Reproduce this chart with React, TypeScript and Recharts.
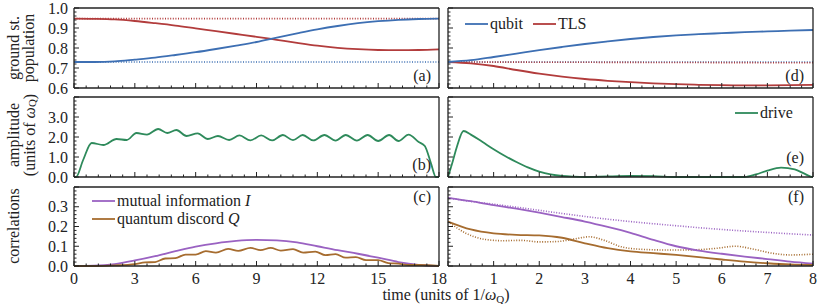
import React from 'react';
import { LineChart, Line, XAxis, YAxis, Legend } from 'recharts';

const W = 822;
const H = 304;
const FONT = '"Liberation Serif", "Times New Roman", serif';
const INK = '#222';

const BLUE = '#3d6fb3';
const RED = '#b23c3c';
const GREEN = '#2e8a5b';
const PURPLE = '#9a62c2';
const BROWN = '#a66c2f';

// ---------- (a) ground state population, driven ----------
const timeA = [0, 1, 2, 3, 4, 5, 6, 7, 8, 9, 10, 11, 12, 13, 14, 15, 16, 17, 18];
const qubitA = [0.73, 0.73, 0.733, 0.742, 0.752, 0.765, 0.779, 0.795, 0.812, 0.83, 0.852, 0.873, 0.893, 0.91, 0.924, 0.934, 0.941, 0.945, 0.947];
const tlsA = [0.947, 0.946, 0.943, 0.935, 0.924, 0.912, 0.898, 0.884, 0.87, 0.856, 0.841, 0.826, 0.812, 0.801, 0.794, 0.79, 0.789, 0.79, 0.793];
const refTimeA = [0, 18];
const qubitRefA = [0.73, 0.73];
const tlsRefA = [0.947, 0.947];

// ---------- (d) ground state population, optimal ----------
const timeD = [0, 0.5, 1, 1.5, 2, 2.5, 3, 3.5, 4, 4.5, 5, 5.5, 6, 6.5, 7, 7.5, 8];
const qubitD = [0.73, 0.739, 0.755, 0.772, 0.789, 0.805, 0.82, 0.833, 0.845, 0.855, 0.863, 0.869, 0.874, 0.879, 0.883, 0.887, 0.89];
const tlsD = [0.73, 0.723, 0.71, 0.69, 0.672, 0.657, 0.645, 0.636, 0.629, 0.623, 0.619, 0.616, 0.614, 0.613, 0.613, 0.614, 0.616];
const refTimeD = [0, 8];
const qubitRefD = [0.73, 0.73];
const tlsRefD = [0.73, 0.726];

// ---------- (b) drive amplitude ----------
const driveTimeB = [0, 0.1, 0.45, 0.87, 1.45, 2.1, 2.6, 3.08, 3.6, 4.15, 4.6, 5.05, 5.55, 6.1, 6.6, 7.1, 7.65, 8.16, 8.7, 9.23, 9.77, 10.3, 10.8, 11.28, 11.8, 12.35, 12.9, 13.4, 13.95, 14.48, 15.0, 15.54, 16.0, 16.5, 17.0, 17.3, 17.6, 17.85, 18];
const driveAmpB = [0, 0, 0.85, 1.7, 1.6, 1.9, 1.85, 2.2, 2.12, 2.4, 2.2, 2.35, 2.05, 2.18, 1.9, 2.05, 1.85, 2.08, 1.83, 2.08, 1.83, 2.1, 1.84, 2.1, 1.83, 2.1, 1.82, 2.1, 1.82, 2.1, 1.8, 2.1, 1.8, 2.12, 1.75, 1.55, 0.7, 0, 0];

// ---------- (e) drive amplitude ----------
const driveTimeE = [0, 0.1, 0.2, 0.34, 0.5, 0.75, 1.0, 1.25, 1.5, 1.75, 2.0, 2.25, 2.5, 2.75, 3.0, 3.5, 4.0, 4.5, 5.0, 6.0, 6.5, 6.75, 7.0, 7.3, 7.6, 7.8, 7.95, 8.0];
const driveAmpE = [0, 0.75, 1.55, 2.3, 2.12, 1.76, 1.39, 1.05, 0.75, 0.48, 0.27, 0.13, 0.05, 0.015, 0, 0.03, 0.05, 0.04, 0, 0, 0, 0.13, 0.32, 0.47, 0.38, 0.18, 0.02, 0];

// ---------- (c) correlations ----------
const timeC = [0, 1, 2, 3, 4, 5, 6, 7, 8, 9, 10, 11, 12, 13, 14, 15, 16, 17, 18];
const mutualC = [0, 0.002, 0.01, 0.028, 0.05, 0.075, 0.098, 0.115, 0.127, 0.132, 0.13, 0.12, 0.1, 0.08, 0.062, 0.042, 0.02, 0.006, 0];
const discordTimeC = [0, 1, 2, 3, 3.5, 4, 4.5, 5.0, 5.5, 6.0, 6.5, 7.0, 7.6, 8.1, 8.7, 9.2, 9.7, 10.2, 10.8, 11.3, 11.9, 12.4, 12.9, 13.4, 13.9, 14.4, 15.0, 15.5, 16, 16.5, 17, 18];
const discordC = [0, 0, 0.003, 0.01, 0.018, 0.02, 0.038, 0.04, 0.058, 0.058, 0.075, 0.068, 0.087, 0.077, 0.092, 0.08, 0.092, 0.078, 0.085, 0.068, 0.073, 0.055, 0.06, 0.042, 0.045, 0.03, 0.03, 0.015, 0.012, 0.005, 0.005, 0];

// ---------- (f) correlations ----------
const timeF = [0, 0.5, 1, 1.5, 2, 2.5, 3, 3.5, 4, 4.5, 5, 5.5, 6, 6.5, 7, 7.5, 8];
const mutualF = [0.345, 0.328, 0.308, 0.29, 0.27, 0.248, 0.225, 0.198, 0.168, 0.132, 0.1, 0.078, 0.062, 0.048, 0.035, 0.022, 0.012];
const mutualRefF = [0.345, 0.327, 0.313, 0.298, 0.282, 0.266, 0.251, 0.237, 0.225, 0.214, 0.204, 0.194, 0.185, 0.177, 0.17, 0.163, 0.157];
const discordF = [0.225, 0.185, 0.165, 0.158, 0.155, 0.143, 0.115, 0.09, 0.074, 0.065, 0.056, 0.045, 0.033, 0.022, 0.014, 0.008, 0.005];
const discordRefTimeF = [0, 0.4, 0.8, 1.2, 1.6, 2.0, 2.4, 2.8, 3.1, 3.4, 3.8, 4.2, 4.8, 5.4, 5.9, 6.3, 6.7, 7.1, 7.5, 8.0];
const discordRefF = [0.225, 0.165, 0.135, 0.128, 0.13, 0.122, 0.124, 0.138, 0.148, 0.132, 0.097, 0.085, 0.081, 0.082, 0.09, 0.1, 0.085, 0.065, 0.056, 0.06];

// ---------- axes ----------
const longTimeTicks = [0, 3, 6, 9, 12, 15, 18];
const shortTimeTicks = [0, 1, 2, 3, 4, 5, 6, 7, 8];
const shortTimeLabels = [1, 2, 3, 4, 5, 6, 7, 8];
const popTicks = [0.6, 0.7, 0.8, 0.9, 1.0];
const ampTicks = [0, 1, 2, 3, 4];
const ampLabels = [0, 1, 2, 3];
const corrTicks = [0, 0.1, 0.2, 0.3, 0.4];
const corrLabels = [0, 0.1, 0.2, 0.3];

const rows = (ts: number[], vs: number[]) => ts.map((t, i) => ({ t, v: vs[i] }));

const withMinor = (majors: number[], div: number) => {
  const out: number[] = [];
  for (let i = 0; i < majors.length - 1; i++) {
    const step = (majors[i + 1] - majors[i]) / div;
    for (let k = 0; k < div; k++) out.push(+(majors[i] + k * step).toFixed(6));
  }
  out.push(majors[majors.length - 1]);
  return out;
};

const has = (list: number[], v: number) => list.some((m) => Math.abs(m - v) < 1e-6);

type Side = 'bottom' | 'top' | 'left' | 'right';

const makeTick = (side: Side, majors: number[], labels: number[], fmt: (v: number) => string) => (props: any) => {
  const { x, y, payload } = props;
  const v = payload.value as number;
  const len = has(majors, v) ? 5 : 2.5;
  let x2 = x;
  let y2 = y;
  if (side === 'bottom') y2 = y - len;
  if (side === 'top') y2 = y + len;
  if (side === 'left') x2 = x + len;
  if (side === 'right') x2 = x - len;
  const show = has(labels, v);
  return (
    <g>
      <line x1={x} y1={y} x2={x2} y2={y2} stroke={INK} strokeWidth={1} />
      {show && side === 'bottom' && (
        <text x={x} y={y + 17.5} textAnchor="middle" fontFamily={FONT} fontSize={16} fill={INK}>
          {fmt(v)}
        </text>
      )}
      {show && side === 'left' && (
        <text x={x - 6} y={y + 5.5} textAnchor="end" fontFamily={FONT} fontSize={16} fill={INK}>
          {fmt(v)}
        </text>
      )}
    </g>
  );
};

type LegendItem = { x: number; y: number; color: string; label: React.ReactNode };

interface PanelProps {
  left: number;
  top: number;
  height: number;
  xMajors: number[];
  xDiv: number;
  xLabels: number[];
  yMajors: number[];
  yDiv: number;
  yLabels: number[];
  legend?: LegendItem[];
  children: React.ReactNode;
}

const PW = 365;
const frame = { stroke: INK, strokeWidth: 1.3 };

function Panel({ left, top, height, xMajors, xDiv, xLabels, yMajors, yDiv, yLabels, legend, children }: PanelProps) {
  const xTicks = withMinor(xMajors, xDiv);
  const yTicks = withMinor(yMajors, yDiv);
  const xDomain = [xMajors[0], xMajors[xMajors.length - 1]];
  const yDomain = [yMajors[0], yMajors[yMajors.length - 1]];
  const common = { type: 'number' as const, interval: 0 as const, tickLine: false, tickSize: 0, tickMargin: 0, axisLine: frame };
  // axes are 1px thick (a 0px axis is not drawn), so the margins give that pixel back
  return (
    <div style={{ position: 'absolute', left: 0, top: 0 }}>
      <LineChart
        width={W}
        height={H}
        margin={{ top: top - 1, left: left - 1, right: W - left - PW - 1, bottom: H - top - height - 1 }}
      >
        <XAxis xAxisId="b" orientation="bottom" dataKey="t" domain={xDomain} ticks={xTicks} height={1} {...common}
          tick={makeTick('bottom', xMajors, xLabels, (v) => String(v))} />
        <XAxis xAxisId="t" orientation="top" dataKey="t" domain={xDomain} ticks={xTicks} height={1} {...common}
          tick={makeTick('top', xMajors, [], String)} />
        <YAxis yAxisId="l" orientation="left" domain={yDomain} ticks={yTicks} width={1} {...common}
          tick={makeTick('left', yMajors, yLabels, (v) => v.toFixed(1))} />
        <YAxis yAxisId="r" orientation="right" domain={yDomain} ticks={yTicks} width={1} {...common}
          tick={makeTick('right', yMajors, [], String)} />
        {children}
        {legend && (
          <Legend
            layout="vertical"
            align="center"
            verticalAlign="middle"
            wrapperStyle={{ left: 0, top: 0, width: W, height: H, pointerEvents: 'none' }}
            content={() => (
              <svg width={W} height={H} style={{ display: 'block', fontFamily: FONT }}>
                {legend.map((it, i) => (
                  <g key={i}>
                    <line x1={it.x} x2={it.x + 23} y1={it.y} y2={it.y} stroke={it.color} strokeWidth={1.8} />
                    <text x={it.x + 25} y={it.y + 5} fontFamily={FONT} fontSize={16} fill={INK}>
                      {it.label}
                    </text>
                  </g>
                ))}
              </svg>
            )}
          />
        )}
      </LineChart>
    </div>
  );
}

const lineProps = { xAxisId: 'b', yAxisId: 'l', dataKey: 'v', type: 'monotone' as const, dot: false, isAnimationActive: false, strokeWidth: 1.8 };
const dotted = { strokeWidth: 1.6, strokeDasharray: '1 1.6', legendType: 'none' as const };

const LX = 74;
const RX = 448;
const ROWS = [
  { top: 8, height: 80 },
  { top: 97, height: 80 },
  { top: 187, height: 79 },
];

const sub = (
  <>
    <tspan fontStyle="italic">ω</tspan>
    <tspan fontSize={11} dy={3}>Q</tspan>
  </>
);

export default function App() {
  return (
    <div style={{ position: 'absolute', left: 0, top: 0, width: W, height: H, background: '#fff' }}>
      <Panel left={LX} {...ROWS[0]} xMajors={longTimeTicks} xDiv={5} xLabels={[]} yMajors={popTicks} yDiv={5} yLabels={popTicks}>
        <Line {...lineProps} {...dotted} data={rows(refTimeA, tlsRefA)} stroke={RED} type="linear" />
        <Line {...lineProps} {...dotted} data={rows(refTimeA, qubitRefA)} stroke={BLUE} type="linear" />
        <Line {...lineProps} data={rows(timeA, tlsA)} stroke={RED} name="TLS" />
        <Line {...lineProps} data={rows(timeA, qubitA)} stroke={BLUE} name="qubit" />
      </Panel>
      <Panel left={RX} {...ROWS[0]} xMajors={shortTimeTicks} xDiv={4} xLabels={[]} yMajors={popTicks} yDiv={5} yLabels={[]}
        legend={[
          { x: 465, y: 24, color: BLUE, label: <>qubit</> },
          { x: 533, y: 24, color: RED, label: <>TLS</> },
        ]}>
        <Line {...lineProps} {...dotted} data={rows(refTimeD, qubitRefD)} stroke={BLUE} type="linear" />
        <Line {...lineProps} {...dotted} data={rows(refTimeD, tlsRefD)} stroke={RED} type="linear" />
        <Line {...lineProps} data={rows(timeD, tlsD)} stroke={RED} name="TLS" />
        <Line {...lineProps} data={rows(timeD, qubitD)} stroke={BLUE} name="qubit" />
      </Panel>
      <Panel left={LX} {...ROWS[1]} xMajors={longTimeTicks} xDiv={5} xLabels={[]} yMajors={ampTicks} yDiv={5} yLabels={ampLabels}>
        <Line {...lineProps} data={rows(driveTimeB, driveAmpB)} stroke={GREEN} name="drive" />
      </Panel>
      <Panel left={RX} {...ROWS[1]} xMajors={shortTimeTicks} xDiv={4} xLabels={[]} yMajors={ampTicks} yDiv={5} yLabels={[]}
        legend={[{ x: 735, y: 113, color: GREEN, label: <>drive</> }]}>
        <Line {...lineProps} data={rows(driveTimeE, driveAmpE)} stroke={GREEN} name="drive" />
      </Panel>
      <Panel left={LX} {...ROWS[2]} xMajors={longTimeTicks} xDiv={5} xLabels={longTimeTicks} yMajors={corrTicks} yDiv={5} yLabels={corrLabels}
        legend={[
          { x: 92, y: 201, color: PURPLE, label: <>mutual information <tspan fontStyle="italic">I</tspan></> },
          { x: 92, y: 219, color: BROWN, label: <>quantum discord <tspan fontStyle="italic">Q</tspan></> },
        ]}>
        <Line {...lineProps} data={rows(timeC, mutualC)} stroke={PURPLE} name="mutual information" />
        <Line {...lineProps} data={rows(discordTimeC, discordC)} stroke={BROWN} name="quantum discord" />
      </Panel>
      <Panel left={RX} {...ROWS[2]} xMajors={shortTimeTicks} xDiv={4} xLabels={shortTimeLabels} yMajors={corrTicks} yDiv={5} yLabels={[]}>
        <Line {...lineProps} {...dotted} data={rows(timeF, mutualRefF)} stroke={PURPLE} />
        <Line {...lineProps} {...dotted} data={rows(discordRefTimeF, discordRefF)} stroke={BROWN} />
        <Line {...lineProps} data={rows(timeF, mutualF)} stroke={PURPLE} name="mutual information" />
        <Line {...lineProps} data={rows(timeF, discordF)} stroke={BROWN} name="quantum discord" />
      </Panel>

      <svg width={W} height={H} style={{ position: 'absolute', left: 0, top: 0, pointerEvents: 'none' }}
        fontFamily={FONT} fontSize={16} fill={INK}>
        <text transform="translate(13,48) rotate(-90)" textAnchor="middle" dominantBaseline="central">ground st.</text>
        <text transform="translate(28,48) rotate(-90)" textAnchor="middle" dominantBaseline="central">population</text>
        <text transform="translate(13,135) rotate(-90)" textAnchor="middle" dominantBaseline="central">amplitude</text>
        <text transform="translate(29,135) rotate(-90)" textAnchor="middle" dominantBaseline="central">
          (units of {sub}<tspan dy={-3}>)</tspan>
        </text>
        <text transform="translate(13,226) rotate(-90)" textAnchor="middle" dominantBaseline="central">correlations</text>
        <text x={446} y={300} textAnchor="middle">
          time (units of 1/{sub}<tspan dy={-3}>)</tspan>
        </text>
        <text x={431} y={81} textAnchor="end">(a)</text>
        <text x={431} y={170} textAnchor="end">(b)</text>
        <text x={431} y={202} textAnchor="end">(c)</text>
        <text x={804} y={81} textAnchor="end">(d)</text>
        <text x={804} y={163} textAnchor="end">(e)</text>
        <text x={804} y={202} textAnchor="end">(f)</text>
      </svg>
    </div>
  );
}
